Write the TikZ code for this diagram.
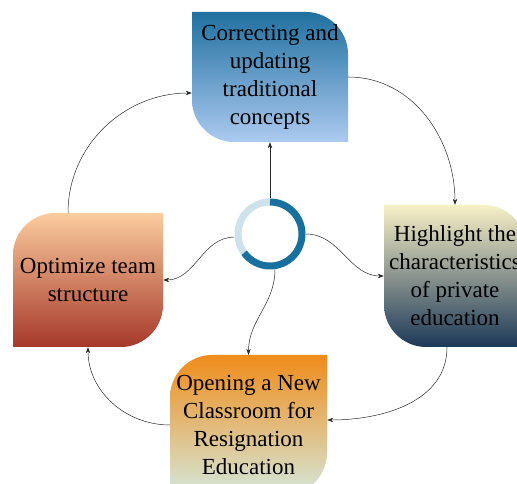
\documentclass[tikz,border=0pt]{standalone}
\usepackage{fontspec}
\setmainfont{Liberation Serif}
\usetikzlibrary{arrows.meta}
\definecolor{ringdark}{RGB}{24,112,158}
\definecolor{ringlight}{RGB}{206,226,236}
\definecolor{topA}{RGB}{32,112,160}
\definecolor{topB}{RGB}{172,202,240}
\definecolor{rightA}{RGB}{248,240,198}
\definecolor{rightB}{RGB}{28,56,88}
\definecolor{leftA}{RGB}{251,204,158}
\definecolor{leftB}{RGB}{166,56,42}
\definecolor{botA}{RGB}{240,140,26}
\definecolor{botM}{RGB}{232,180,100}
\definecolor{botB}{RGB}{212,232,218}
\definecolor{linegray}{RGB}{40,40,40}
\tikzset{
  boxtext/.style={align=center, inner sep=0pt, font=\fontsize{23}{28}\selectfont},
  conn/.style={draw=linegray, line width=0.5pt, -{Stealth[length=6pt,width=4.5pt]}},
}
\begin{document}
\begin{tikzpicture}[x=1pt,y=1pt]
\useasboundingbox (0,0) rectangle (517,484);
\clip (0,0) rectangle (517,484);
% shapes
\path[top color=topA, bottom color=topB]
  (192,472) -- (306,472) .. controls (329,472) and (348,453) .. (348,430) -- (348,342) -- (234,342) .. controls (211,342) and (192,361) .. (192,384) -- cycle;
\path[top color=rightA, bottom color=rightB]
  (384,279) -- (484,279) .. controls (507,279) and (526,260) .. (526,237) -- (526,137) -- (426,137) .. controls (403,137) and (384,156) .. (384,179) -- cycle;
\path[top color=leftA, bottom color=leftB]
  (55,271) -- (163,271) -- (163,179) .. controls (163,156) and (144,137) .. (121,137) -- (13,137) -- (13,229) .. controls (13,252) and (32,271) .. (55,271) -- cycle;
\path[top color=botA, middle color=botM, bottom color=botB]
  (212,129) -- (327,129) -- (327,31) .. controls (327,8) and (308,-11) .. (285,-11) -- (170,-11) -- (170,87) .. controls (170,110) and (189,129) .. (212,129) -- cycle;
% text nodes
\node[boxtext, minimum width=156pt, minimum height=130pt] (top) at (270,407) {Correcting and\\updating\\traditional\\concepts};
\node[boxtext, minimum width=142pt, minimum height=142pt] (right) at (455,208) {Highlight the\\characteristics\\of private\\education};
\node[boxtext, minimum width=150pt, minimum height=134pt] (left) at (88,204) {Optimize team\\structure};
\node[boxtext, minimum width=157pt, minimum height=140pt] (bottom) at (248.5,59) {Opening a New\\Classroom for\\Resignation\\Education};
% ring
\draw[ringlight, line width=7pt] (270,250) ++(90:32) arc[start angle=90, end angle=216, radius=32];
\draw[ringdark, line width=7pt] (270,250) ++(90:32) arc[start angle=90, end angle=-144, radius=32];
\node[circle, minimum size=71pt, inner sep=0pt] (ring) at (270,250) {};
% connectors from ring
\draw[conn] (ring.north) -- (top.south);
\draw[conn] (ring.east) to[out=0,in=180] (right.west);
\draw[conn] (ring.185) to[out=180,in=0] (left.east);
\draw[conn] (ring.-82) to[out=-90,in=90] (bottom.north);
% cycle connectors
\draw[conn] (top.east) to[out=0,in=90] (right.north);
\draw[conn] ([xshift=-8pt]right.south) to[out=-90,in=0] ([yshift=5pt]bottom.east);
\draw[conn] (bottom.west) to[out=180,in=-90] (left.south);
\draw[conn] ([xshift=-20pt]left.north) to[out=90,in=180] ([yshift=-16pt]top.west);
\end{tikzpicture}
\end{document}
